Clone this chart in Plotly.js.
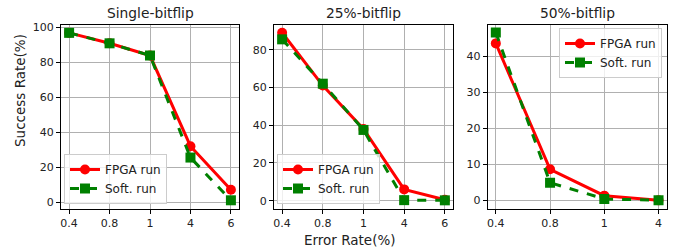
<!DOCTYPE html>
<html><head><meta charset="utf-8">
<script src="https://cdn.plot.ly/plotly-3.0.1.min.js"></script>
<style>html,body{margin:0;padding:0;background:#fff}#c{width:678px;height:249px}</style>
</head><body><div id="c"></div>
<script>
const cats5 = ["0.4","0.8","1","4","6"];
const cats4 = ["0.4","0.8","1","4"];
const singleFpga = [97, 91, 84, 32, 7];
const singleSoft = [97, 91, 84, 25.5, 1];
const q25Fpga = [89, 61, 38, 6, 0.5];
const q25Soft = [85.5, 62, 37.5, 0.3, 0.2];
const q50Fpga = [43.5, 8.6, 1.3, 0];
const q50Soft = [46.5, 4.9, 0.4, 0];
const titles = ["Single-bitflip","25%-bitflip","50%-bitflip"];

function fpga(x,y,xa,ya,lg){return {x:x,y:y,xaxis:xa,yaxis:ya,legend:lg,name:"FPGA run",mode:"lines+markers",
  line:{color:"#ff0000",width:3},marker:{symbol:"circle",size:10,color:"#ff0000"},showlegend:true};}
function soft(x,y,xa,ya,lg){return {x:x,y:y,xaxis:xa,yaxis:ya,legend:lg,name:"Soft. run",mode:"lines+markers",
  line:{color:"#008000",width:3,dash:"dash"},marker:{symbol:"square",size:10,color:"#008000"},showlegend:true};}

const data = [
  fpga(cats5,singleFpga,"x","y","legend"), soft(cats5,singleSoft,"x","y","legend"),
  fpga(cats5,q25Fpga,"x2","y2","legend2"), soft(cats5,q25Soft,"x2","y2","legend2"),
  fpga(cats4,q50Fpga,"x3","y3","legend3"), soft(cats4,q50Soft,"x3","y3","legend3")
];
const tf = {family:"DejaVu Sans",size:11,color:"#222"};
function xax(dom,rng){return {domain:dom,type:"category",range:rng,showgrid:true,gridcolor:"#b0b0b0",gridwidth:1,
  showline:true,linecolor:"#000",linewidth:1,mirror:true,ticks:"outside",ticklen:4,tickcolor:"#000",tickfont:tf,zeroline:false};}
function yax(rng,dtick){return {domain:[0.1606,0.8996],range:rng,dtick:dtick,showgrid:true,gridcolor:"#b0b0b0",gridwidth:1,
  showline:true,linecolor:"#000",linewidth:1,mirror:true,ticks:"outside",ticklen:4,tickcolor:"#000",tickfont:tf,zeroline:false};}
const lgBase = {bgcolor:"rgba(255,255,255,0.8)",bordercolor:"#cccccc",borderwidth:1,font:{family:"DejaVu Sans",size:12,color:"#222"},
  tracegroupgap:0,itemwidth:30};
const titleFont = {family:"DejaVu Sans",size:13.8,color:"#222",weight:"normal"};
const axFont = {family:"DejaVu Sans",size:13.5,color:"#222"};
const layout = {
  width:678,height:249,margin:{l:0,r:0,t:0,b:0},paper_bgcolor:"#fff",plot_bgcolor:"#fff",
  xaxis:Object.assign(xax([0.0900,0.3525],[-0.2,4.2]),{anchor:"y"}),
  yaxis:Object.assign(yax([-4,101.5],20),{anchor:"x"}),
  xaxis2:Object.assign(xax([0.4041,0.6681],[-0.2,4.2]),{anchor:"y2"}),
  yaxis2:Object.assign(yax([-4.4,93.1],20),{anchor:"x2"}),
  xaxis3:Object.assign(xax([0.7193,0.9833],[-0.15,3.15]),{anchor:"y3"}),
  yaxis3:Object.assign(yax([-2.4,48.6],10),{anchor:"x3"}),
  legend:Object.assign({},lgBase,{x:64/678,y:1-204/249,xanchor:"left",yanchor:"bottom"}),
  legend2:Object.assign({},lgBase,{x:277/678,y:1-204/249,xanchor:"left",yanchor:"bottom"}),
  legend3:Object.assign({},lgBase,{x:662/678,y:1-28/249,xanchor:"right",yanchor:"top"}),
  annotations:[
    {text:titles[0],xref:"paper",yref:"paper",x:(0.0900+0.3525)/2,y:1-13/249,xanchor:"center",yanchor:"middle",showarrow:false,font:titleFont},
    {text:titles[1],xref:"paper",yref:"paper",x:(0.4041+0.6681)/2,y:1-13/249,xanchor:"center",yanchor:"middle",showarrow:false,font:titleFont},
    {text:titles[2],xref:"paper",yref:"paper",x:(0.7193+0.9833)/2,y:1-13/249,xanchor:"center",yanchor:"middle",showarrow:false,font:titleFont},
    {text:"Success Rate(%)",xref:"paper",yref:"paper",x:20/678,y:1-91/249,xanchor:"center",yanchor:"middle",textangle:-90,showarrow:false,font:axFont},
    {text:"Error Rate(%)",xref:"paper",yref:"paper",x:350/678,y:1-240/249,xanchor:"center",yanchor:"middle",showarrow:false,font:axFont}
  ]
};
Plotly.newPlot("c",data,layout,{staticPlot:true,displayModeBar:false});
</script></body></html>
